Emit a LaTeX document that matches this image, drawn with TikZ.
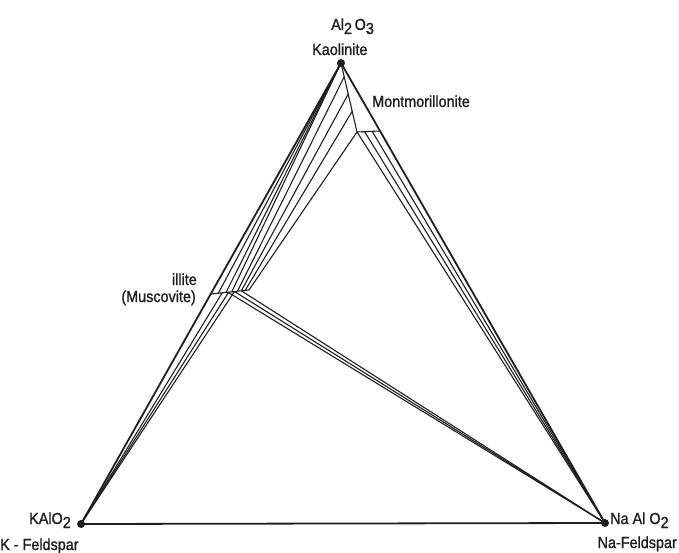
\documentclass[tikz,border=0pt]{standalone}
\usepackage{fontspec}
\setmainfont{Liberation Sans}[FakeStretch=0.9, FakeBold=1.2]
\usetikzlibrary{calc}
\definecolor{ink}{RGB}{30,30,30}
\newcommand\lowsub[1]{\raisebox{-4pt}{#1}}
\begin{document}
\begin{tikzpicture}[x=1pt,y=-1pt,
  edge/.style={draw=ink, line width=1.8pt, line join=round},
  tie/.style={draw=ink, line width=1.1pt},
  lbl/.style={inner sep=0pt, anchor=base west, text=ink, font=\fontsize{16}{16}\selectfont},
  lble/.style={inner sep=0pt, anchor=base east, text=ink, font=\fontsize{16}{16}\selectfont},
  dot/.style={circle, fill=ink, inner sep=0pt, minimum size=8pt}]
\useasboundingbox (0,0) rectangle (679,553);
% vertices
\coordinate (A) at (341,63);
\coordinate (K) at (81,524);
\coordinate (N) at (605,523);
% illite segment
\coordinate (I1) at ($(A)!0.5011!(K)$);
\coordinate (I2) at (249,290);
% montmorillonite field
\coordinate (M2) at (357,132);
\coordinate (M3) at ($(A)!0.1478!(N)$);
% points on illite
\foreach \t/\n in {0.2/ia,0.3/ib,0.4/ic,0.45/id,0.47/ie,0.55/if,0.62/ig,0.7/ih,0.8/ii,0.9/ij}
  \coordinate (\n) at ($(I1)!\t!(I2)$);
% points on montmorillonite left side
\foreach \s/\n in {0.2/ma,0.45/mb,0.7/mc}
  \coordinate (\n) at ($(A)!\s!(M2)$);
% points on montmorillonite base
\foreach \s/\n in {0.33/ba,0.66/bb}
  \coordinate (\n) at ($(M2)!\s!(M3)$);

% kaolinite - illite
\foreach \p in {ia,ic,if} \draw[tie] (A) -- (\p);
% illite - montmorillonite
\draw[tie] (ih) -- (ma);
\draw[tie] (ii) -- (mb);
\draw[tie] (ij) -- (mc);
\draw[tie] (I2) -- (M2);
% K-feldspar - illite
\foreach \p in {ib,ie,ig} \draw[tie] (K) -- (\p);
% illite - Na-feldspar
\foreach \p in {id,ig,ii} \draw[tie] (\p) -- (N);
% montmorillonite - Na-feldspar
\foreach \p in {M2,ba,bb} \draw[tie] (\p) -- (N);
% fields
\draw[tie] (I1) -- (I2);
\draw[tie] (A) -- (M2) -- (M3);
% main triangle
\draw[edge] (A) -- (K) -- (N) -- cycle;
% vertex dots
\node[dot] (dA) at (A) {};
\node[dot] (dK) at (K) {};
\node[dot] (dN) at (N) {};
% labels
\node[lbl] (lAl) at (331,30) {Al\lowsub{2}\,O\lowsub{3}};
\node[lbl] (lKa) at (312,55) {Kaolinite};
\node[lbl] (lMo) at (372,107) {Montmorillonite};
\node[lble] (lIl) at (197,285) {illite};
\node[lble] (lMu) at (196,302) {(Muscovite)};
\node[lbl] (lKA) at (29,524) {KAlO\lowsub{2}};
\node[lbl] (lKF) at (0,550) {K - Feldspar};
\node[lbl] (lNA) at (610,524) {Na Al O\lowsub{2}};
\node[lble] (lNF) at (677,548) {Na-Feldspar};
\end{tikzpicture}
\end{document}
